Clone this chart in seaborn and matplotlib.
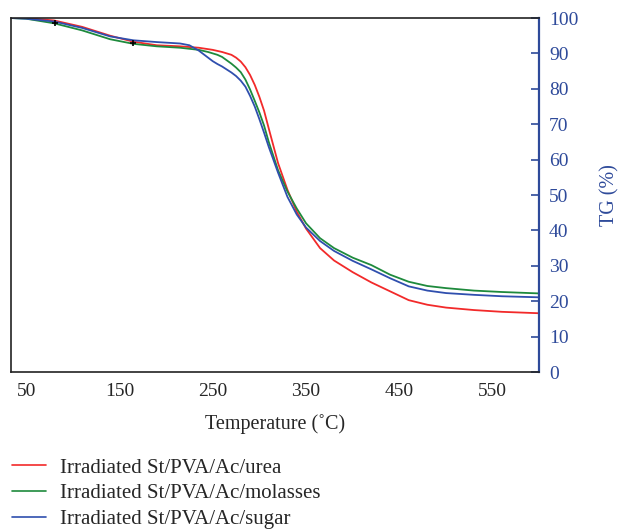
import matplotlib
matplotlib.use("Agg")
import matplotlib.pyplot as plt
from matplotlib.lines import Line2D
import seaborn as sns
import pandas as pd

temps = [33, 50, 80, 110, 140, 165, 190, 215, 225, 235,
         245, 250, 255, 260, 270, 275, 280, 285, 290, 295,
         300, 305, 310, 320, 330, 340, 350, 365, 380, 400,
         420, 440, 460, 480, 500, 530, 560, 600]
urea = [100, 100, 99.3, 97.5, 95, 93.3, 92.3, 92, 91.8, 91.6,
        91.2, 91.0, 90.7, 90.4, 89.6, 88.8, 87.7, 86.1, 83.9, 81.1,
        77.7, 73.8, 68.8, 59, 51.5, 45.3, 40.5, 35, 31.5, 28.2,
        25.3, 22.8, 20.3, 19, 18.2, 17.5, 17, 16.6]
molasses = [100, 99.8, 98.5, 96.5, 94, 92.7, 92, 91.6, 91.3, 91,
            90.4, 90, 89.6, 89, 87.1, 86, 84.7, 82.6, 79.8, 76.6,
            73.3, 69.6, 65, 57, 51, 46.2, 42, 37.8, 35, 32.3,
            30.2, 27.5, 25.5, 24.3, 23.7, 23, 22.6, 22.2]
sugar = [100, 99.8, 99, 97.2, 94.8, 93.7, 93.2, 92.8, 92.3, 90.8,
         88.8, 87.8, 87, 86.3, 84.6, 83.6, 82.3, 80.6, 78, 75,
         71.4, 67.6, 63.6, 56.3, 49.5, 44.5, 40.8, 37, 34.2, 31.4,
         29, 26.5, 24.2, 23, 22.3, 21.8, 21.4, 21.1]
labels = ["Irradiated St/PVA/Ac/urea", "Irradiated St/PVA/Ac/molasses",
          "Irradiated St/PVA/Ac/sugar"]
marker_t = [81, 165]
marker_tg = [98.5, 92.8]
xticks = list(range(50, 600, 50))
yticks = list(range(0, 101, 10))

colors = ["#f22a2a", "#1e8a3c", "#2f4fae"]
axis_blue = "#2e4a9a"

df = pd.concat([
    pd.DataFrame({"T": temps, "TG": s, "Sample": lab})
    for s, lab in zip([urea, molasses, sugar], labels)
])

sns.set_style("white")
plt.rcParams["font.family"] = ["Liberation Serif", "DejaVu Serif"]

fig = plt.figure(figsize=(6.23, 5.31), dpi=100)
ax = fig.add_axes([0.0177, 0.2994, 0.848, 0.6667])

sns.lineplot(data=df, x="T", y="TG", hue="Sample", palette=colors,
             linewidth=1.3, ax=ax, legend=False, sort=False)
ax.plot(marker_t, marker_tg, linestyle="none", marker="+", color="black",
        markersize=5, markeredgewidth=1.2)

ax.set_xlim(33.8, 600)
ax.set_ylim(0, 100)
ax.set_xticks(xticks)
ax.set_xticklabels([str(v) if v % 100 == 50 else "" for v in xticks],
                   fontsize=14)
ax.tick_params(axis="x", direction="in", length=5, width=1, color="black",
               pad=8)
ax.yaxis.tick_right()
ax.yaxis.set_label_position("right")
ax.set_yticks(yticks)
ax.tick_params(axis="y", direction="in", length=6, width=1.2, color=axis_blue,
               labelcolor=axis_blue, labelsize=14, pad=7)
ax.set_xlabel("Temperature (˚C)", fontsize=14.5, labelpad=10)
ax.set_ylabel("TG (%)", fontsize=14.5, color=axis_blue, labelpad=16)

for side in ["left", "top", "bottom"]:
    ax.spines[side].set_color("#222222")
    ax.spines[side].set_linewidth(1.2)
ax.spines["right"].set_color(axis_blue)
ax.spines["right"].set_linewidth(1.6)

handles = [Line2D([0], [0], color=c, linewidth=1.2) for c in colors]
fig.legend(handles, labels, loc="upper left", bbox_to_anchor=(0.0064, 0.153),
           frameon=False, fontsize=15, handlelength=1.63, handletextpad=0.67,
           labelspacing=0.29, borderaxespad=0.0)

fig.savefig("out.png", dpi=100)
